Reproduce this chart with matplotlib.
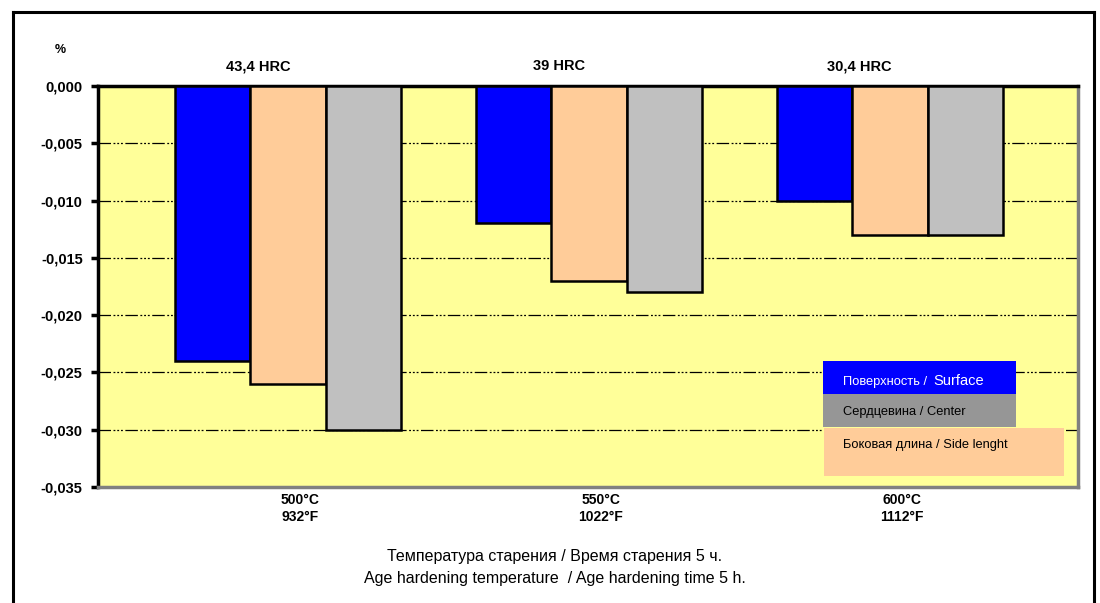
#!/usr/bin/env python3
# -*- coding: utf-8 -*-
"""
Усадка при старении: поверхность / боковая длина / сердцевина
"""

import numpy as np
import matplotlib
matplotlib.use('Agg')
import matplotlib.pyplot as plt
from matplotlib.patches import Rectangle
from matplotlib.lines import Line2D

plt.rcParams['font.family'] = ['Liberation Sans', 'DejaVu Sans']

# данные
categories = ['500°C\n932°F', '550°C\n1022°F', '600°C\n1112°F']
hardness = ['43,4 HRC', '39 HRC', '30,4 HRC']
surface = [-0.024, -0.012, -0.010]
side_length = [-0.026, -0.017, -0.013]
center = [-0.030, -0.018, -0.013]
y_ticks = [0.000, -0.005, -0.010, -0.015, -0.020, -0.025, -0.030, -0.035]

series = [surface, side_length, center]
colors = ['#0000FF', '#FFCC99', '#C0C0C0']

W, H = 1100, 603
fig = plt.figure(figsize=(W / 100, H / 100), dpi=100)
fig.patch.set_facecolor('white')

# область графика (в пикселях исходника)
ax = fig.add_axes([98 / W, 1 - 487 / H, 980 / W, 401 / H])
ax.set_facecolor('#FFFF99')
ax.set_axisbelow(True)

x = np.arange(len(categories))
bw = 0.251
for i, (vals, col) in enumerate(zip(series, colors)):
    ax.bar(x + (i - 1) * bw, vals, width=bw, color=col, edgecolor='black',
           linewidth=1.8, zorder=3)

ax.set_xlim(-0.631, 2.625)
ax.set_ylim(-0.035, 0.0)
ax.set_yticks(y_ticks)
ax.set_yticklabels([f'{v:.3f}'.replace('.', ',') for v in y_ticks],
                   fontsize=10.5, fontweight='bold')
ax.tick_params(axis='y', length=5, width=2.5, direction='out', pad=6)

ax.set_xticks(x + 0.04)
ax.set_xticklabels(categories, fontsize=10, fontweight='bold', linespacing=1.3)
ax.tick_params(axis='x', length=0, pad=4)

ax.yaxis.grid(True, color='black', linewidth=0.9,
              linestyle=(0, (10, 2, 1.5, 1.5, 1.5, 1.5, 1.5, 2)))

for side in ['left', 'top']:
    ax.spines[side].set_color('black')
    ax.spines[side].set_linewidth(2.5)
for side in ['right', 'bottom']:
    ax.spines[side].set_color('#808080')
    ax.spines[side].set_linewidth(2.5)

# твёрдость над группами
for xi, lab in zip(x, hardness):
    ax.text(xi - 0.1, 0.0011, lab, ha='center', va='bottom',
            fontsize=10.5, fontweight='bold', clip_on=False)

fig.text(60 / W, 1 - 50 / H, '%', ha='center', va='center',
         fontsize=9, fontweight='bold')

# легенда в виде цветных плашек
def px_rect(x0, y0, x1, y1, col):
    fig.add_artist(Rectangle((x0 / W, 1 - y1 / H), (x1 - x0) / W, (y1 - y0) / H,
                             transform=fig.transFigure, facecolor=col,
                             edgecolor='none', zorder=5))

px_rect(823, 361, 1016, 394, colors[0])
px_rect(823, 394, 1016, 427, '#969696')
px_rect(824, 428, 1064, 476, colors[1])
fig.text(843 / W, 1 - 382 / H, 'Поверхность /', color='white', fontsize=9.3,
         va='center', zorder=6)
fig.text(933 / W, 1 - 381 / H, 'Surface', color='white', fontsize=10.5,
         va='center', zorder=6)
fig.text(843 / W, 1 - 412 / H, 'Сердцевина / Center', color='black',
         fontsize=9.3, va='center', zorder=6)
fig.text(843 / W, 1 - 445 / H, 'Боковая длина / Side lenght', color='black',
         fontsize=9.3, va='center', zorder=6)

# подпись оси X
fig.text(555 / W, 1 - 556 / H, 'Температура старения / Время старения 5 ч.',
         ha='center', va='center', fontsize=11.5)
fig.text(555 / W, 1 - 578 / H, 'Age hardening temperature  / Age hardening time 5 h.',
         ha='center', va='center', fontsize=11.5)

# рамка рисунка
for xs, ys in [((13, 13), (12, H)), ((13, 1094), (12, 12)), ((1094, 1094), (12, H))]:
    fig.add_artist(Line2D([v / W for v in xs], [1 - v / H for v in ys],
                          transform=fig.transFigure, color='black', linewidth=2.2))

fig.savefig('out.png', dpi=100)
plt.close(fig)
